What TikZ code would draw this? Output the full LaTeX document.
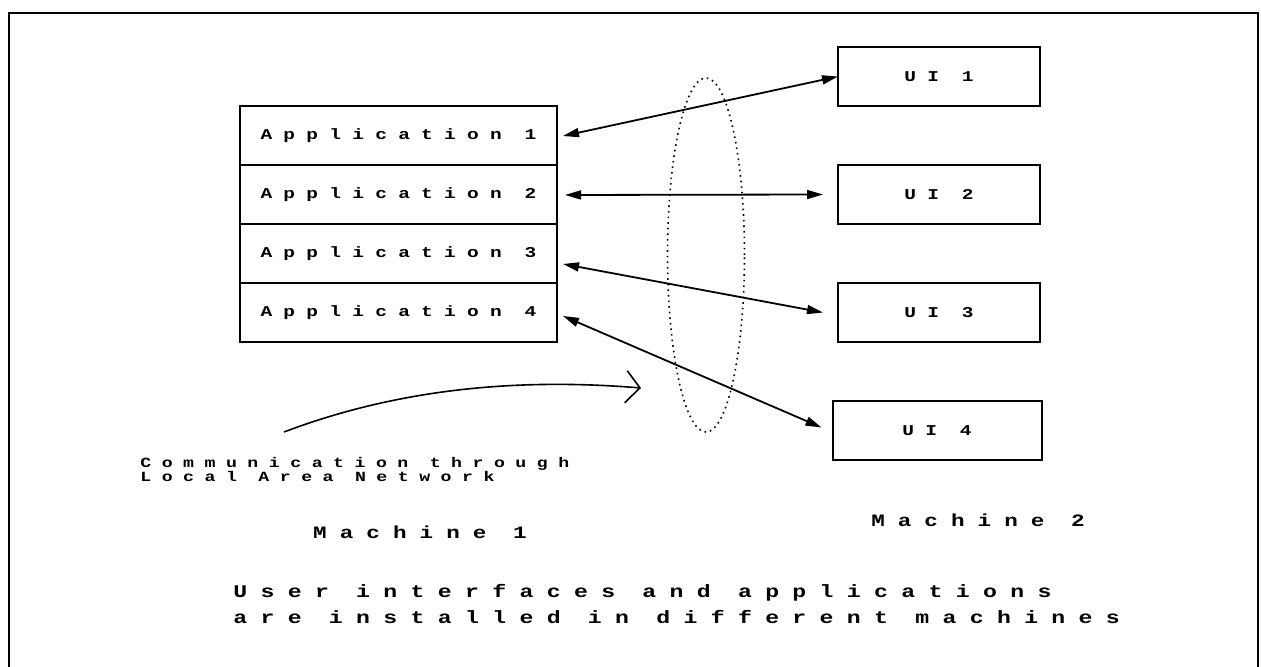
\documentclass[tikz,border=0pt]{standalone}
\usepackage{fontspec}
\usepackage{tikz}
\usetikzlibrary{arrows.meta,positioning,shapes.geometric}
% wide spaced typewriter lettering
\newfontfamily\dotmono[LetterSpace=75,FakeStretch=1.3]{Liberation Mono}
\newcommand{\typesize}[2]{\dotmono\bfseries\fontsize{#1}{#2}\selectfont}

\begin{document}
\begin{tikzpicture}[
    x=0.5pt, y=-0.5pt,
    node distance=29.5pt,
    box/.style={draw, line width=1pt, minimum height=29.5pt, inner sep=0pt, outer sep=0pt},
    appbox/.style={box, minimum width=158.5pt, font=\typesize{7.5}{8}},
    uibox/.style={box, minimum width=101pt, font=\typesize{7.5}{8}},
    caption/.style={inner sep=0pt, align=left},
    arrow/.style={{Triangle[length=8pt,width=4.5pt]}-{Triangle[length=8pt,width=4.5pt]}, line width=0.9pt},
]
\useasboundingbox (0,0) rectangle (1261,667);

% outer frame, open at the bottom
\draw[line width=1.3pt] (9,667) -- (9,13) -- (1258,13) -- (1258,667);

% Machine 1: stacked applications
\node[appbox] (app1) at (398.5,136) {Application 1};
\node[appbox, below=0pt of app1] (app2) {Application 2};
\node[appbox, below=0pt of app2] (app3) {Application 3};
\node[appbox, below=0pt of app3] (app4) {Application 4};

% Machine 2: user interfaces
\node[uibox] (ui1) at (939,76.5) {UI 1};
\node[uibox, below=of ui1] (ui2) {UI 2};
\node[uibox, below=of ui2] (ui3) {UI 3};
\node[uibox, minimum width=104.5pt, below=of ui3, xshift=-1pt] (ui4) {UI 4};

% local area network
\node[draw, dotted, line width=0.8pt, ellipse, minimum width=38.5pt, minimum height=177pt, inner sep=0pt] (lan) at (706,255) {};

% links
\draw[arrow] ([xshift=3pt]app1.east) -- (ui1.west);
\draw[arrow] ([xshift=4pt]app2.east) -- ([xshift=-7.5pt]ui2.west);
\draw[arrow] ([xshift=3pt, yshift=-5pt]app3.east) -- ([xshift=-7.5pt]ui3.west);
\draw[arrow] ([xshift=3pt, yshift=-1.5pt]app4.east) -- ([xshift=-5.5pt, yshift=1.5pt]ui4.west);

% note with hand-drawn pointer
\node[caption, anchor=west, font=\typesize{7}{7}] (note) at (140,469)
    {Communication through\\Local Area Network};
\coordinate (notefrom) at (284,432);
\coordinate (noteto) at (641,388);
\draw[line width=0.8pt, -{Straight Barb[length=7pt,width=16pt]}]
    (notefrom) .. controls (400,388) and (520,378) .. (noteto);

% machine labels
\node[caption, font=\typesize{8.7}{9}] (mach1) at (420,532) {Machine 1};
\node[caption, font=\typesize{8.7}{9}] (mach2) at (978,520) {Machine 2};

% caption
\node[caption, anchor=west, font=\typesize{8.9}{13}] (title) at (233,604)
    {User interfaces and applications\\are installed in different machines};
\end{tikzpicture}
\end{document}
